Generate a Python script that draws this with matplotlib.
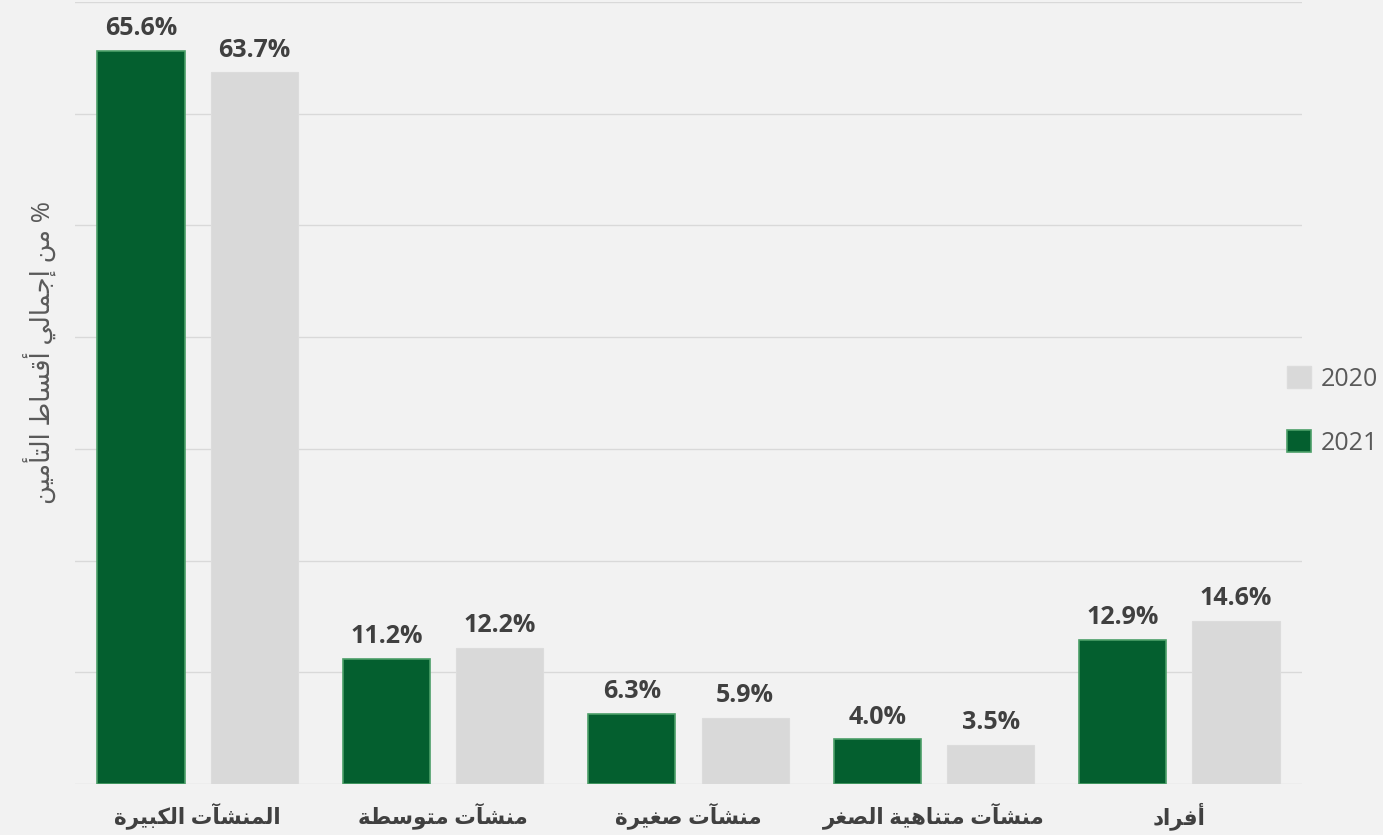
import matplotlib
matplotlib.use('Agg')
import matplotlib.pyplot as plt
from matplotlib.patches import Patch
import numpy as np

# data
categories = ['المنشآت الكبيرة', 'منشآت متوسطة', 'منشآت صغيرة', 'منشآت متناهية الصغر', 'أفراد']
vals_2021 = [65.6, 11.2, 6.3, 4.0, 12.9]
vals_2020 = [63.7, 12.2, 5.9, 3.5, 14.6]
series_names = ['2021', '2020']
ylabel = '% من إجمالي أقساط التأمين'

# arabic shaping (matplotlib has no shaping / bidi)
FORMS = {
    'ا': (0xFE8D, 0xFE8E, None, None),
    'أ': (0xFE83, 0xFE84, None, None),
    'إ': (0xFE87, 0xFE88, None, None),
    'آ': (0xFE81, 0xFE82, None, None),
    'ب': (0xFE8F, 0xFE90, 0xFE91, 0xFE92),
    'ة': (0xFE93, 0xFE94, None, None),
    'ت': (0xFE95, 0xFE96, 0xFE97, 0xFE98),
    'ج': (0xFE9D, 0xFE9E, 0xFE9F, 0xFEA0),
    'د': (0xFEA9, 0xFEAA, None, None),
    'ر': (0xFEAD, 0xFEAE, None, None),
    'س': (0xFEB1, 0xFEB2, 0xFEB3, 0xFEB4),
    'ش': (0xFEB5, 0xFEB6, 0xFEB7, 0xFEB8),
    'ص': (0xFEB9, 0xFEBA, 0xFEBB, 0xFEBC),
    'ط': (0xFEC1, 0xFEC2, 0xFEC3, 0xFEC4),
    'غ': (0xFECD, 0xFECE, 0xFECF, 0xFED0),
    'ف': (0xFED1, 0xFED2, 0xFED3, 0xFED4),
    'ق': (0xFED5, 0xFED6, 0xFED7, 0xFED8),
    'ك': (0xFED9, 0xFEDA, 0xFEDB, 0xFEDC),
    'ل': (0xFEDD, 0xFEDE, 0xFEDF, 0xFEE0),
    'م': (0xFEE1, 0xFEE2, 0xFEE3, 0xFEE4),
    'ن': (0xFEE5, 0xFEE6, 0xFEE7, 0xFEE8),
    'ه': (0xFEE9, 0xFEEA, 0xFEEB, 0xFEEC),
    'و': (0xFEED, 0xFEEE, None, None),
    'ى': (0xFEEF, 0xFEF0, None, None),
    'ي': (0xFEF1, 0xFEF2, 0xFEF3, 0xFEF4),
}
LAM_ALEF = {'آ': (0xFEF5, 0xFEF6), 'أ': (0xFEF7, 0xFEF8),
            'إ': (0xFEF9, 0xFEFA), 'ا': (0xFEFB, 0xFEFC)}


def dual(c):
    return c in FORMS and FORMS[c][2] is not None


def shape(text):
    res = []
    n = len(text)
    i = 0
    while i < n:
        c = text[i]
        prev = text[i-1] if i > 0 else ''
        if c == 'ل' and i + 1 < n and text[i+1] in LAM_ALEF:
            iso, fin = LAM_ALEF[text[i+1]]
            res.append(chr(fin if dual(prev) else iso))
            i += 2
            continue
        if c not in FORMS:
            res.append(c)
            i += 1
            continue
        nxt = text[i+1] if i + 1 < n else ''
        p = dual(prev)
        q = dual(c) and nxt in FORMS
        f = FORMS[c]
        if p and q:
            code = f[3]
        elif p:
            code = f[1]
        elif q:
            code = f[2]
        else:
            code = f[0]
        res.append(chr(code))
        i += 1
    return ''.join(reversed(res))


FONT = ['Open Sans', 'DejaVu Sans']
plt.rcParams['font.family'] = FONT

green = '#045f2f'
green_edge = '#4c9f68'
grey = '#d9d9d9'
bg = '#f2f2f2'
txt = '#404040'

fig = plt.figure(figsize=(13.83, 8.35), dpi=100, facecolor=bg)
ax = fig.add_axes([75/1383, 1-784/835, 1227/1383, 782/835])
ax.set_facecolor(bg)

x = np.arange(len(categories))
w = 0.355
off = 0.231
b21 = ax.bar(x - off, vals_2021, w, color=green, edgecolor=green_edge, linewidth=1.2, zorder=3)
b20 = ax.bar(x + off, vals_2020, w, color=grey, edgecolor='#dcdcdc', linewidth=0.8, zorder=3)

for bars, vals in ((b21, vals_2021), (b20, vals_2020)):
    for r, v in zip(bars, vals):
        ax.annotate(f'{v:.1f}%', (r.get_x() + r.get_width()/2, v),
                    xytext=(0, 7), textcoords='offset points',
                    ha='center', va='bottom', fontsize=18,
                    fontweight='bold', color=txt)

ax.set_xlim(-0.5, 4.5)
ax.set_ylim(0, 70)
ax.set_yticks(np.arange(0, 71, 10))
ax.set_yticklabels([])
ax.yaxis.grid(True, color='#d9d9d9', linewidth=1.0, zorder=0)
ax.tick_params(axis='both', length=0)
for s in ax.spines.values():
    s.set_visible(False)

ax.set_xticks(x)
ax.set_xticklabels([shape(c) for c in categories], fontsize=15.5,
                   fontweight='bold', color=txt)
ax.tick_params(axis='x', pad=13)

fig.text(40/1383, 1-352/835, shape(ylabel), rotation=90, ha='center', va='center',
         fontsize=18.5, color='#595959')

handles = [Patch(facecolor=grey, edgecolor='#dcdcdc'),
           Patch(facecolor=green, edgecolor=green_edge, linewidth=1.2)]
fig.legend(handles, ['2020', '2021'], loc='center left',
           bbox_to_anchor=(1287/1383, 1-411/835), frameon=False,
           fontsize=18, handlelength=0.96, handleheight=0.96,
           handletextpad=0.4, labelspacing=1.55, borderpad=0,
           borderaxespad=0, labelcolor='#595959')

fig.savefig('out.png', dpi=100, facecolor=bg)
